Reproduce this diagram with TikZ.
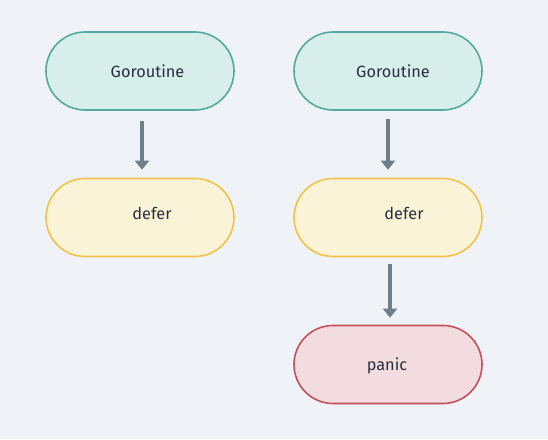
\documentclass[tikz,border=0pt]{standalone}
\usepackage{fontspec}
\setmainfont{Fira Sans}
\usetikzlibrary{arrows.meta}
\definecolor{bg}{HTML}{EFF3F7}
\definecolor{tealline}{HTML}{52AB9A}
\definecolor{tealfill}{HTML}{D8EEEB}
\definecolor{yelline}{HTML}{F0C24A}
\definecolor{yelfill}{HTML}{FBF3D8}
\definecolor{redline}{HTML}{C4505C}
\definecolor{redfill}{HTML}{F2DCE0}
\definecolor{arrowcol}{HTML}{6F7F8A}
\definecolor{txt}{HTML}{27313B}
\tikzset{
  pill/.style={rectangle, rounded corners=39pt, minimum width=188pt, minimum height=78pt,
    line width=1.6pt, inner sep=0pt},
  gor/.style={pill, draw=tealline, fill=tealfill},
  def/.style={pill, draw=yelline, fill=yelfill},
  pan/.style={pill, draw=redline, fill=redfill},
  lbl/.style={text=txt, font=\fontsize{16.3}{19}\selectfont},
  flow/.style={draw=arrowcol, line width=3.8pt, -{Triangle[width=14pt,length=9pt]}}
}
\begin{document}
\begin{tikzpicture}[x=1pt,y=1pt]
\fill[bg] (0,0) rectangle (548,439);
\useasboundingbox (0,0) rectangle (548,439);
% left column
\node[gor] (g1) at (140,368) {};
\node[def] (d1) at (140,221.5) {};
\node[lbl] (g1t) at (147.5,367.5) {Goroutine};
\node[lbl] (d1t) at (152,226) {defer};
% right column
\node[gor] (g2) at (388,368) {};
\node[def] (d2) at (388,221.5) {};
\node[pan] (p2) at (388,74.5) {};
\node[lbl] (g2t) at (393,367.5) {Goroutine};
\node[lbl] (d2t) at (404,226) {defer};
\node[lbl] (p2t) at (387,73) {panic};
% connectors
\draw[flow] ([xshift=2pt,yshift=-10pt]g1.south) -- ([xshift=2pt,yshift=8pt]d1.north);
\draw[flow] ([yshift=-8pt]g2.south) -- ([yshift=8pt]d2.north);
\draw[flow] ([xshift=2pt,yshift=-7pt]d2.south) -- ([xshift=2pt,yshift=7pt]p2.north);
\end{tikzpicture}
\end{document}
